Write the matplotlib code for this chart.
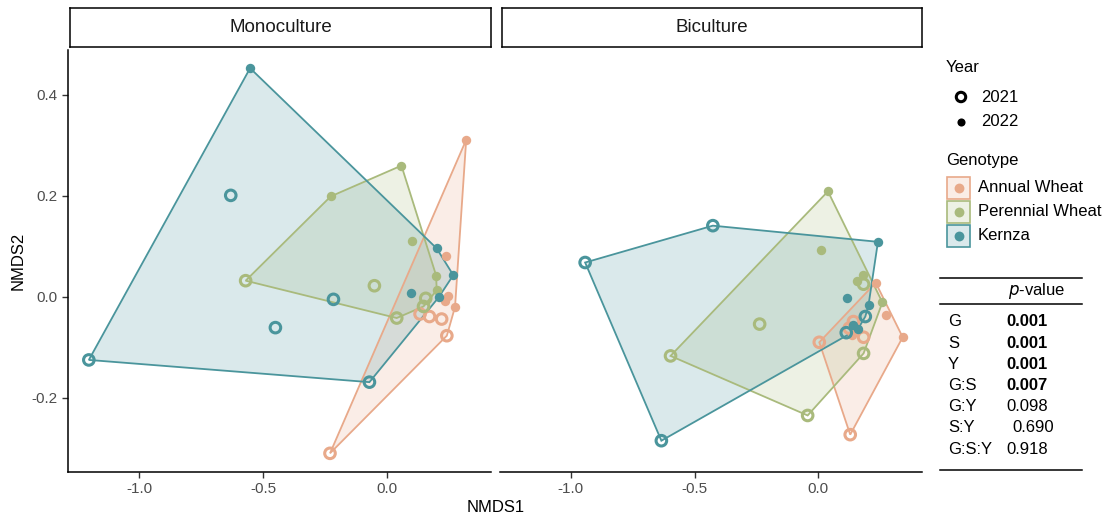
import numpy as np
import matplotlib.pyplot as plt
from matplotlib.patches import Polygon, Rectangle

plt.rcParams["font.family"] = ["Liberation Sans", "DejaVu Sans"]
plt.rcParams["axes.unicode_minus"] = False

# ---- data (NMDS scores) ----
genotypes = ["Annual Wheat", "Perennial Wheat", "Kernza"]
colors = {"Annual Wheat": "#E8A98A", "Perennial Wheat": "#A9BA7C", "Kernza": "#4A959C"}

# Monoculture
mono_aw_2021_x = [-0.230, 0.241, 0.133, 0.171, 0.220]
mono_aw_2021_y = [-0.310, -0.077, -0.034, -0.039, -0.044]
mono_aw_2022_x = [0.319, 0.274, 0.238, 0.247, 0.234]
mono_aw_2022_y = [0.311, -0.020, 0.080, 0.002, -0.009]

mono_pw_2021_x = [-0.570, 0.039, -0.051, 0.156, 0.147]
mono_pw_2021_y = [0.032, -0.042, 0.022, -0.003, -0.019]
mono_pw_2022_x = [0.058, -0.227, 0.102, 0.198, 0.200]
mono_pw_2022_y = [0.260, 0.199, 0.111, 0.042, 0.013]

mono_kz_2021_x = [-1.202, -0.071, -0.630, -0.450, -0.216]
mono_kz_2021_y = [-0.125, -0.169, 0.201, -0.061, -0.005]
mono_kz_2022_x = [-0.552, 0.200, 0.267, 0.095, 0.208]
mono_kz_2022_y = [0.453, 0.096, 0.043, 0.007, -0.001]

# Biculture
bi_aw_2021_x = [0.129, 0.004, 0.142, 0.183, 0.125]
bi_aw_2021_y = [-0.273, -0.090, -0.049, -0.080, -0.062]
bi_aw_2022_x = [0.341, 0.273, 0.232, 0.136, 0.150]
bi_aw_2022_y = [-0.080, -0.036, 0.028, -0.075, -0.068]

bi_pw_2021_x = [-0.597, -0.043, -0.237, 0.183, 0.183]
bi_pw_2021_y = [-0.117, -0.235, -0.054, -0.112, 0.025]
bi_pw_2022_x = [0.039, 0.012, 0.259, 0.180, 0.156]
bi_pw_2022_y = [0.209, 0.093, -0.011, 0.044, 0.032]

bi_kz_2021_x = [-0.942, -0.426, -0.634, 0.190, 0.113]
bi_kz_2021_y = [0.068, 0.141, -0.285, -0.039, -0.071]
bi_kz_2022_x = [0.241, 0.116, 0.203, 0.160, 0.140]
bi_kz_2022_y = [0.109, -0.003, -0.016, -0.064, -0.055]

panels = {
    "Monoculture": {
        "Annual Wheat": (mono_aw_2021_x, mono_aw_2021_y, mono_aw_2022_x, mono_aw_2022_y),
        "Perennial Wheat": (mono_pw_2021_x, mono_pw_2021_y, mono_pw_2022_x, mono_pw_2022_y),
        "Kernza": (mono_kz_2021_x, mono_kz_2021_y, mono_kz_2022_x, mono_kz_2022_y),
    },
    "Biculture": {
        "Annual Wheat": (bi_aw_2021_x, bi_aw_2021_y, bi_aw_2022_x, bi_aw_2022_y),
        "Perennial Wheat": (bi_pw_2021_x, bi_pw_2021_y, bi_pw_2022_x, bi_pw_2022_y),
        "Kernza": (bi_kz_2021_x, bi_kz_2021_y, bi_kz_2022_x, bi_kz_2022_y),
    },
}

terms = ["G", "S", "Y", "G:S", "G:Y", "S:Y", "G:S:Y"]
pvals = ["0.001", "0.001", "0.001", "0.007", "0.098", "0.690", "0.918"]


def convex_hull(pts):
    pts = sorted(set(map(tuple, pts)))
    if len(pts) < 3:
        return pts

    def cross(o, a, b):
        return (a[0] - o[0]) * (b[1] - o[1]) - (a[1] - o[1]) * (b[0] - o[0])

    lower, upper = [], []
    for p in pts:
        while len(lower) >= 2 and cross(lower[-2], lower[-1], p) <= 0:
            lower.pop()
        lower.append(p)
    for p in reversed(pts):
        while len(upper) >= 2 and cross(upper[-2], upper[-1], p) <= 0:
            upper.pop()
        upper.append(p)
    return lower[:-1] + upper[:-1]


W, H = 1115, 517
fig = plt.figure(figsize=(W / 100, H / 100), dpi=100)

def px_axes(x0, y0, x1, y1):
    return fig.add_axes([x0 / W, 1 - y1 / H, (x1 - x0) / W, (y1 - y0) / H])

axes = [px_axes(68, 50, 491, 472), px_axes(500, 50, 922, 472)]
xlim = (-1.286, 0.419)
ylim = (-0.347, 0.489)
grey = "#4D4D4D"

for i, (ax, (name, groups)) in enumerate(zip(axes, panels.items())):
    ax.set_xlim(*xlim)
    ax.set_ylim(*ylim)
    for s in ["top", "right"]:
        ax.spines[s].set_visible(False)
    ax.spines["bottom"].set_linewidth(1.1)
    ax.spines["left"].set_linewidth(1.1)
    if i == 1:
        ax.spines["left"].set_visible(False)
        ax.tick_params(axis="y", left=False, labelleft=False)
    ax.set_xticks([-1.0, -0.5, 0.0])
    ax.set_yticks([-0.2, 0.0, 0.2, 0.4])
    ax.tick_params(labelsize=11, labelcolor=grey, color="#333333", length=4, width=1)
    ax.set_facecolor("none")

    for g in genotypes:
        x1, y1, x2, y2 = groups[g]
        pts = list(zip(x1 + x2, y1 + y2))
        hull = convex_hull(pts)
        c = colors[g]
        ax.add_patch(Polygon(hull, closed=True, facecolor=c, alpha=0.2, edgecolor="none", zorder=1))
        ax.add_patch(Polygon(hull, closed=True, facecolor="none", edgecolor=c, lw=1.3, zorder=2))
    for g in genotypes:
        x1, y1, x2, y2 = groups[g]
        c = colors[g]
        ax.scatter(x1, y1, s=58, facecolor="none", edgecolor=c, linewidth=2.2, zorder=3)
        ax.scatter(x2, y2, s=46, color=c, linewidth=0, zorder=3)

    # facet strip
    bb = ax.get_position()
    sx = fig.add_axes([bb.x0 + 2 / W, 1 - 47 / H, bb.width - 2 / W, 39 / H])
    sx.set_xticks([]); sx.set_yticks([])
    for s in sx.spines.values():
        s.set_linewidth(1.1)
    sx.text(0.5, 0.5, name, ha="center", va="center", fontsize=13.5, color="#1A1A1A")

axes[0].set_ylabel("NMDS2", fontsize=12, labelpad=4)
fig.text(496 / W, 1 - 507 / H, "NMDS1", ha="center", va="center", fontsize=12)

# ---- legend and table drawn in pixel space ----
lg = fig.add_axes([0, 0, 1, 1])
lg.set_xlim(0, W)
lg.set_ylim(H, 0)
lg.axis("off")
lg.patch.set_alpha(0)

lg.text(946, 68, "Year", fontsize=12, va="center")
lg.scatter([961], [97], s=46, facecolor="none", edgecolor="black", linewidth=2.2)
lg.scatter([961], [122], s=34, color="black", linewidth=0)
lg.text(981, 97, "2021", fontsize=12, va="center")
lg.text(981, 122, "2022", fontsize=12, va="center")

lg.text(946, 160, "Genotype", fontsize=12, va="center")
for k, g in enumerate(genotypes):
    yc = 188 + k * 24
    c = colors[g]
    lg.add_patch(Rectangle((947, yc - 11), 23, 22, facecolor=c, alpha=0.2, edgecolor="none"))
    lg.add_patch(Rectangle((947, yc - 11), 23, 22, facecolor="none", edgecolor=c, lw=1.2))
    lg.scatter([958.5], [yc], s=50, color=c, linewidth=0)
    lg.text(978, yc, g, fontsize=12, va="center")

lg.plot([940, 1082], [278, 278], color="black", lw=1.1)
lg.plot([940, 1082], [304, 304], color="black", lw=1.1)
lg.plot([940, 1082], [470, 470], color="black", lw=1.1)
lg.text(1008, 291, "$p$-value", fontsize=12, va="center")
for k, (t, p) in enumerate(zip(terms, pvals)):
    yc = 322 + k * 21.2
    lg.text(948, yc, t, fontsize=12, va="center")
    bold = float(p) < 0.05
    xoff = 1012 if p == "0.690" else 1006
    lg.text(xoff, yc, p, fontsize=12, va="center", fontweight="bold" if bold else "normal")

plt.savefig("out.png", dpi=100)
